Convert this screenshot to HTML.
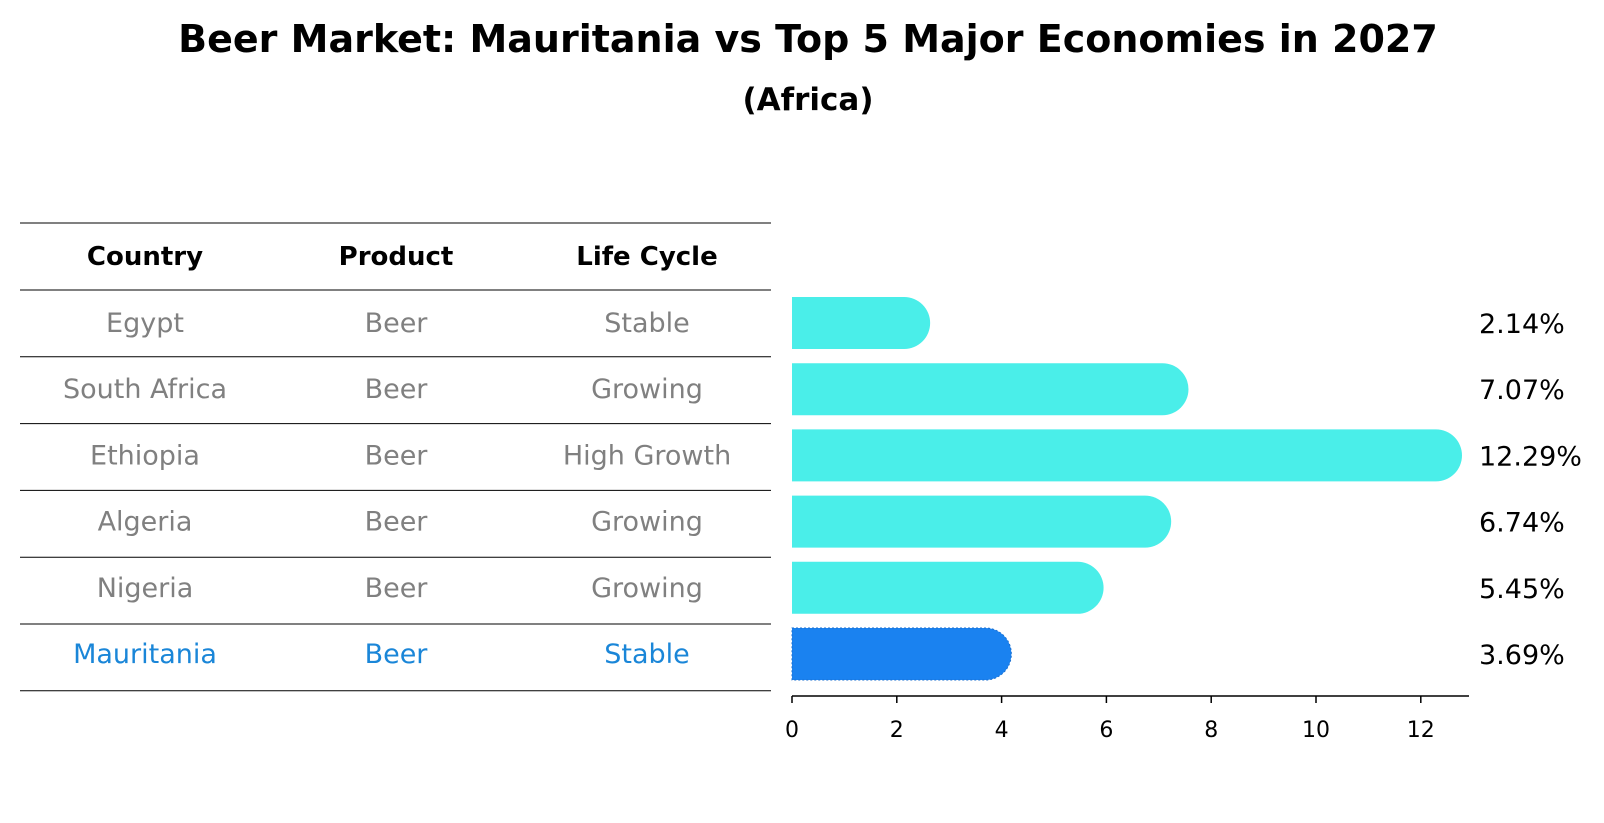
<!DOCTYPE html>
<html><head><meta charset="utf-8"><style>
body{margin:0;background:#fff;}
svg{display:block;font-family:"DejaVu Sans","Liberation Sans",sans-serif;}
</style></head><body>
<svg id="chart" width="1604" height="823" viewBox="0 0 1604 823">
<text x="808" y="52" text-anchor="middle" font-size="38" font-weight="bold">Beer Market: Mauritania vs Top 5 Major Economies in 2027</text>
<text x="808" y="110" text-anchor="middle" font-size="31" font-weight="bold">(Africa)</text>
<g id="table"></g>
<g id="bars"></g>
</svg>
<script>
const countries=["Egypt","South Africa","Ethiopia","Algeria","Nigeria","Mauritania"];
const products=["Beer","Beer","Beer","Beer","Beer","Beer"];
const lifecycle=["Stable","Growing","High Growth","Growing","Growing","Stable"];
const values=[2.14,7.07,12.29,6.74,5.45,3.69];
const ticks=[0,2,4,6,8,10,12];
const NS="http://www.w3.org/2000/svg";
function mk(t,a,p){const e=document.createElementNS(NS,t);for(const k in a)e.setAttribute(k,a[k]);p.appendChild(e);return e;}
const tbl=document.getElementById('table'),bars=document.getElementById('bars');
const rowY=i=>323+i*66.2;
const x=v=>792+v*52.4;
for(let i=0;i<=7;i++){const y=i==0?223:290+(i-1)*66.8;
 const l=mk('line',{x1:20,x2:771,y1:y,y2:y,stroke:'#000','stroke-width':1},tbl);
 
 }
const colX=[145,396,647];
["Country","Product","Life Cycle"].forEach((h,j)=>{const t=mk('text',{x:colX[j],y:265,'text-anchor':'middle','font-size':26,'font-weight':'bold'},tbl);t.textContent=h;
 
 });
countries.forEach((c,i)=>{const col=i==5?'#1a86d8':'#808080';
 [c,products[i],lifecycle[i]].forEach((s,j)=>{const t=mk('text',{x:colX[j],y:rowY(i)+9,'text-anchor':'middle','font-size':27,fill:col},tbl);t.textContent=s;
 
 });});
const h=52,r=26;
values.forEach((v,i)=>{const cy=rowY(i),y0=cy-h/2,xe=x(v);
 const p=mk('path',{d:`M${x(0)},${y0} H${xe} A${r},${r} 0 0 1 ${xe},${y0+h} H${x(0)} Z`,fill:i==5?'#1a82f0':'#4aeee9',stroke:i==5?'#1a6fd0':'none','stroke-dasharray':i==5?'2,2':'none'},bars);
 
 
 const t=mk('text',{x:1479,y:cy+10,'font-size':27},bars);t.textContent=v.toFixed(2)+'%';
 
 });
const ax=mk('line',{x1:792,x2:1469,y1:696,y2:696,stroke:'#000','stroke-width':1.5},bars);


ticks.forEach(tv=>{const tk=mk('line',{x1:x(tv),x2:x(tv),y1:696,y2:703,stroke:'#000','stroke-width':1.5},bars);
 
 
 const t=mk('text',{x:x(tv),y:737,'text-anchor':'middle','font-size':22},bars);t.textContent=tv;
 
 });
</script>
</body></html>
